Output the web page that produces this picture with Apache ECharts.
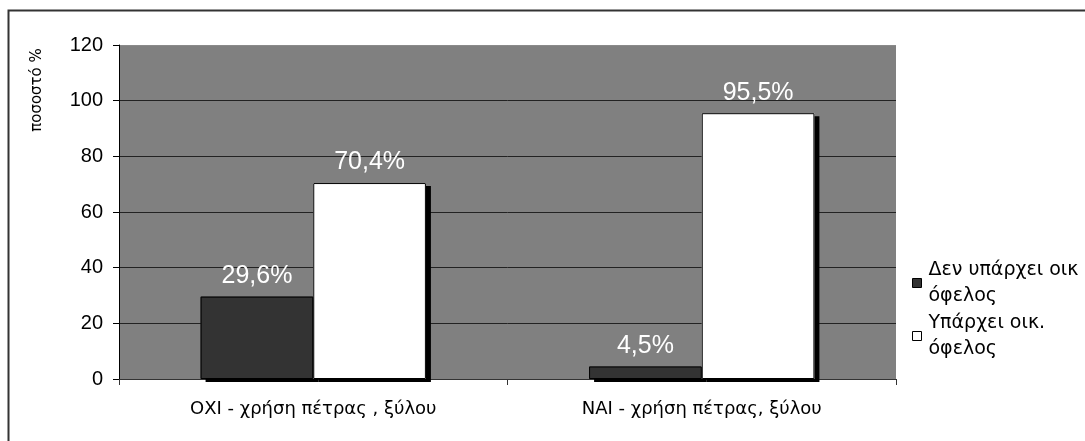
<!DOCTYPE html>
<html>
<head>
<meta charset="utf-8">
<script src="https://cdn.jsdelivr.net/npm/echarts@6/dist/echarts.min.js"></script>
<style>
html,body{margin:0;padding:0;background:#fff;}
#chart{width:1085px;height:441px;}
</style>
</head>
<body>
<div id="chart"></div>
<script>
// κατηγορίες και τιμές (%)
var categories = ['ΟΧΙ - χρήση πέτρας , ξύλου', 'ΝΑΙ - χρήση πέτρας, ξύλου'];
var seriesNames = ['Δεν υπάρχει οικ\nόφελος', 'Υπάρχει οικ.\nόφελος'];
var noBenefit = [29.6, 4.5];
var benefit = [70.4, 95.5];
var yTicks = [0, 20, 40, 60, 80, 100, 120];

var font = 'Liberation Sans, Arial, sans-serif';
var greekFont = 'DejaVu Sans, sans-serif';

function fmt(p){
    return p.value.toFixed(1).replace('.', ',') + '%';
}

function makeLegend(name, top){
    return {
        data: [name],
        orient: 'vertical',
        left: 912,
        top: top,
        padding: 0,
        icon: 'rect',
        itemWidth: 9,
        itemHeight: 9,
        selectedMode: false,
        itemStyle: {borderColor: '#000', borderWidth: 1, shadowBlur: 0, shadowOffsetX: 0, shadowOffsetY: 0, shadowColor: 'transparent'},
        textStyle: {
            fontFamily: greekFont,
            fontSize: 19,
            color: '#000',
            lineHeight: 26,
            padding: [0, 0, 0, 2]
        }
    };
}

// γέμισμα με σκιά (χωρίς περίγραμμα)
function fillSeries(name, data, color){
    return {
        name: name,
        type: 'bar',
        data: data,
        xAxisIndex: 0,
        barGap: '0%',
        barCategoryGap: '42%',
        itemStyle: {
            color: color,
            borderWidth: 0,
            shadowColor: '#000',
            shadowBlur: 0,
            shadowOffsetX: 5,
            shadowOffsetY: 3
        }
    };
}

// περίγραμμα + ετικέτα, στον δεύτερο (κρυφό) άξονα x
function outlineSeries(name, data){
    return {
        name: name,
        type: 'bar',
        data: data,
        xAxisIndex: 1,
        barGap: '0%',
        barCategoryGap: '42%',
        itemStyle: {color: 'transparent', borderColor: '#000', borderWidth: 1},
        label: {
            show: true,
            position: 'top',
            distance: 8,
            color: '#fff',
            fontFamily: font,
            fontSize: 25,
            formatter: fmt
        }
    };
}

var myChart = echarts.init(document.getElementById('chart'));
var option = {
    backgroundColor: '#fff',
    animation: false,
    grid: {
        left: 119,
        top: 45,
        right: 189,
        bottom: 62,
        show: true,
        backgroundColor: '#808080',
        borderWidth: 0
    },
    legend: [
        makeLegend(seriesNames[0], 257),
        makeLegend(seriesNames[1], 310)
    ],
    xAxis: [
        {
            type: 'category',
            data: categories,
            axisLine: {lineStyle: {color: '#333', width: 1}},
            axisTick: {show: true, length: 6, lineStyle: {color: '#333'}},
            axisLabel: {fontFamily: greekFont, fontSize: 18, color: '#000', margin: 21}
        },
        {
            type: 'category',
            data: categories,
            show: false
        }
    ],
    yAxis: {
        type: 'value',
        min: yTicks[0],
        max: yTicks[yTicks.length - 1],
        interval: 20,
        axisLine: {show: true, lineStyle: {color: '#000', width: 1}},
        axisTick: {show: true, length: 6, lineStyle: {color: '#000'}},
        axisLabel: {fontFamily: font, fontSize: 20, color: '#000', margin: 16},
        splitLine: {
            show: true,
            lineStyle: {color: ['#333', '#222', '#222', '#222', '#222', '#222', '#8a8a8a'], width: 1}
        }
    },
    graphic: [
        {
            type: 'rect',
            shape: {x: 8.5, y: 10.5, width: 1200, height: 600},
            style: {fill: 'none', stroke: '#333', lineWidth: 2},
            silent: true
        },
        {
            type: 'text',
            x: 37,
            y: 90,
            rotation: Math.PI / 2,
            style: {
                text: 'ποσοστό %',
                fontFamily: greekFont,
                fontSize: 15,
                fill: '#000',
                align: 'center',
                verticalAlign: 'middle'
            }
        }
    ],
    series: [
        fillSeries(seriesNames[0], noBenefit, '#333333'),
        fillSeries(seriesNames[1], benefit, '#ffffff'),
        outlineSeries(seriesNames[0], noBenefit),
        outlineSeries(seriesNames[1], benefit)
    ]
};
myChart.setOption(option);
</script>
</body>
</html>
